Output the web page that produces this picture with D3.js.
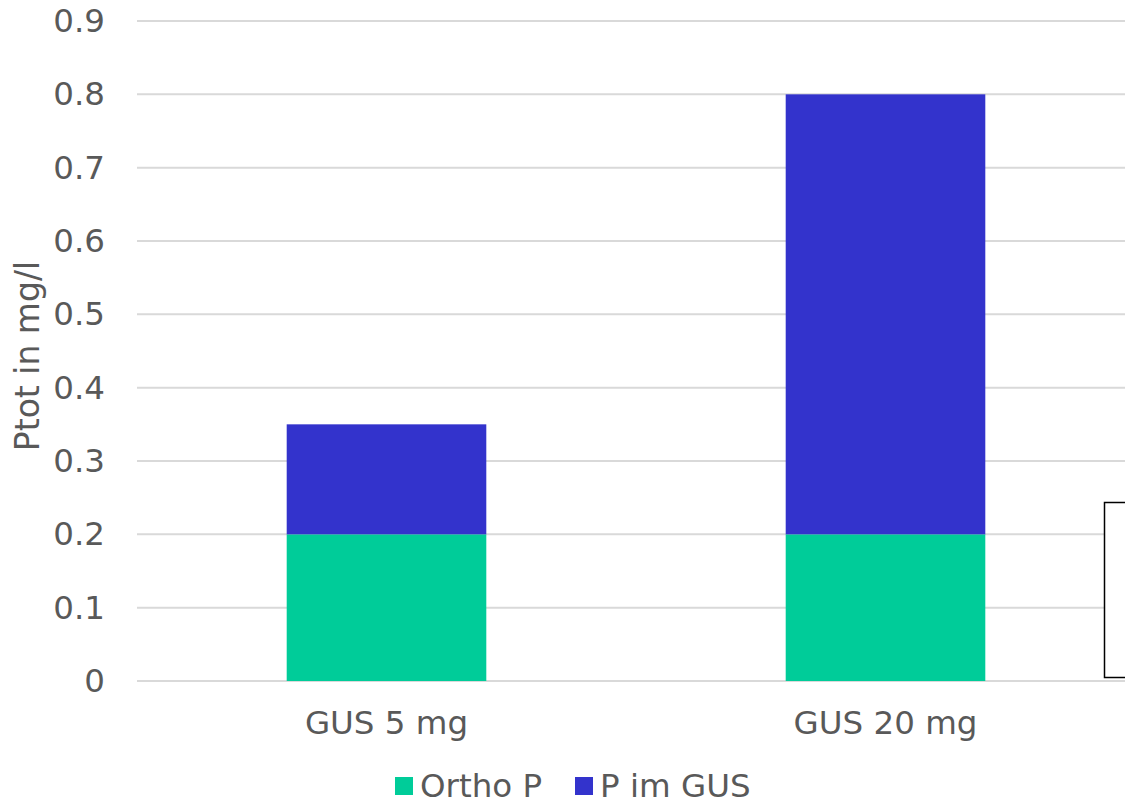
<!DOCTYPE html>
<html>
<head>
<meta charset="utf-8">
<script src="https://cdn.jsdelivr.net/npm/d3@7"></script>
<style>
  html, body { margin: 0; padding: 0; background: #fff; }
  svg { display: block; }
  text { font-family: "DejaVu Sans", Verdana, sans-serif; fill: #595959; }
</style>
</head>
<body>
<svg id="chart" width="1125" height="802"></svg>
<script>
// Phosphorus fractions per dosage
const categories = ["GUS 5 mg", "GUS 20 mg"];
const seriesNames = ["Ortho P", "P im GUS"];
const orthoP = [0.2, 0.2];
const pImGUS = [0.15, 0.6];
const yTicks = [0, 0.1, 0.2, 0.3, 0.4, 0.5, 0.6, 0.7, 0.8, 0.9];
const colors = ["#00CC99", "#3333CC"];

const svg = d3.select("#chart");
const plotLeft = 137, plotRight = 1135, plotTop = 21, plotBottom = 681;
const fontSize = 32.5;

const x = d3.scaleBand().domain(categories).range([plotLeft, plotRight])
  .paddingInner(0.6).paddingOuter(0.3);
const y = d3.scaleLinear().domain([0, 0.9]).range([plotBottom, plotTop]);

// horizontal gridlines
svg.append("g").selectAll("line").data(yTicks).join("line")
  .attr("x1", plotLeft).attr("x2", 1125)
  .attr("y1", d => y(d)).attr("y2", d => y(d))
  .attr("stroke", "#d9d9d9").attr("stroke-width", 2);

// y tick labels
svg.append("g").selectAll("text").data(yTicks).join("text")
  .attr("x", 105).attr("y", d => y(d))
  .attr("text-anchor", "end").attr("dominant-baseline", "central")
  .attr("font-size", fontSize)
  .text(d => d === 0 ? "0" : d3.format(".1f")(d));

// stacked bars
const rows = categories.map((c, i) => ({ cat: c, "Ortho P": orthoP[i], "P im GUS": pImGUS[i] }));
const stacked = d3.stack().keys(seriesNames)(rows);
svg.append("g").selectAll("g").data(stacked).join("g")
  .attr("fill", (d, i) => colors[i])
  .selectAll("rect").data(d => d).join("rect")
  .attr("x", d => x(d.data.cat))
  .attr("width", x.bandwidth())
  .attr("y", d => y(d[1]))
  .attr("height", d => y(d[0]) - y(d[1]));

// category labels
svg.append("g").selectAll("text").data(categories).join("text")
  .attr("x", d => x(d) + x.bandwidth() / 2).attr("y", 723)
  .attr("text-anchor", "middle").attr("dominant-baseline", "central")
  .attr("font-size", fontSize)
  .text(d => d);

// y axis title
svg.append("text")
  .attr("transform", "translate(27,356) rotate(-90)")
  .attr("text-anchor", "middle").attr("dominant-baseline", "central")
  .attr("font-size", 33)
  .text("Ptot in mg/l");

// legend
const legendItems = [{ name: seriesNames[0], x: 395 }, { name: seriesNames[1], x: 575 }];
const lg = svg.append("g").selectAll("g").data(legendItems).join("g")
  .attr("transform", d => `translate(${d.x},786)`);
lg.append("rect").attr("x", 0).attr("y", -9).attr("width", 18).attr("height", 18)
  .attr("fill", (d, i) => colors[i]);
lg.append("text").attr("x", 25).attr("y", 0)
  .attr("dominant-baseline", "central").attr("font-size", fontSize)
  .text(d => d.name);

// framed box at the right edge
svg.append("rect")
  .attr("x", 1104.5).attr("y", 502.5).attr("width", 40).attr("height", 175)
  .attr("fill", "#fff").attr("stroke", "#000").attr("stroke-width", 1.5);
</script>
</body>
</html>
